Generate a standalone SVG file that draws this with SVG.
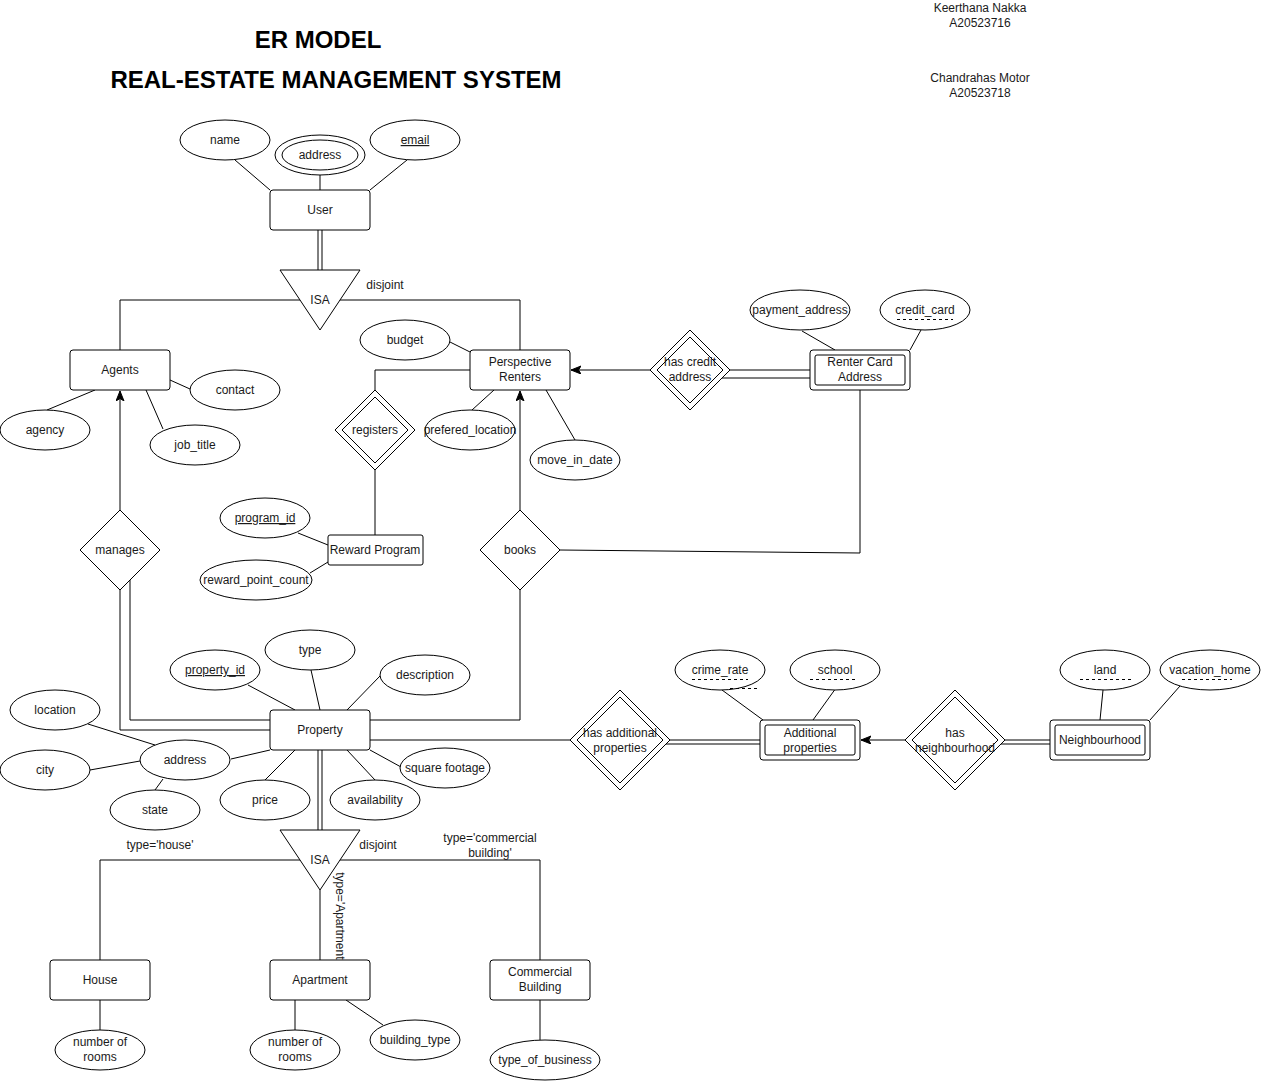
<svg xmlns="http://www.w3.org/2000/svg" width="1261" height="1081" viewBox="0 0 1261 1081">
<defs>
<marker id="arr" markerUnits="userSpaceOnUse" markerWidth="11" markerHeight="9" refX="10" refY="4" orient="auto">
<path d="M0,0 L10,4 L0,8 L2.5,4 z" fill="#000" stroke="#000" stroke-width="1"/>
</marker>
</defs>
<style>
.l{fill:none;stroke:#000;stroke-width:1}
.s{fill:#fff;stroke:#000;stroke-width:1}
.t{font-family:"Liberation Sans",Arial,sans-serif;font-size:12px;fill:#1a1a1a;text-anchor:middle}
.h{font-family:"Liberation Sans",Arial,sans-serif;font-size:24px;font-weight:bold;fill:#000;text-anchor:middle}
.u{text-decoration:underline}
.d{fill:none;stroke:#000;stroke-width:1;stroke-dasharray:3,3}
</style>
<rect x="0" y="0" width="1261" height="1081" fill="#fff"/>

<g id="titles">
<text class="h" x="318" y="48">ER MODEL</text>
<text class="h" x="336" y="88">REAL-ESTATE MANAGEMENT SYSTEM</text>
<text class="t" x="980" y="12">Keerthana Nakka</text>
<text class="t" x="980" y="27">A20523716</text>
<text class="t" x="980" y="82">Chandrahas Motor</text>
<text class="t" x="980" y="97">A20523718</text>
</g>

<g id="connectors">
<path class="l" d="M235,160 L270,190"/>
<path class="l" d="M320,175 L320,190"/>
<path class="l" d="M407,160 L370,190"/>
<path class="l" d="M318,230 V270 M322,230 V270"/>
<path class="l" d="M120,350 V300 H520 V350"/>
<path class="l" d="M170,380 L190,389"/>
<path class="l" d="M95,390 L47,410"/>
<path class="l" d="M146,390 L163,429"/>
<path class="l" d="M120,510 V391" marker-end="url(#arr)"/>
<path class="l" d="M120,590 V730 H270 M130,580 V720 H270"/>
<path class="l" d="M450,342 L470,352"/>
<path class="l" d="M494,390 L472,410"/>
<path class="l" d="M546,390 L575,440"/>
<path class="l" d="M470,370 H375 V390"/>
<path class="l" d="M375,470 V535"/>
<path class="l" d="M298,533 L328,545"/>
<path class="l" d="M310,573 L328,562"/>
<path class="l" d="M520,510 V391" marker-end="url(#arr)"/>
<path class="l" d="M520,590 V720 H370"/>
<path class="l" d="M560,550 L860,553 V390"/>
<path class="l" d="M650,370 H571" marker-end="url(#arr)"/>
<path class="l" d="M730,370 H810 M722,378 H810"/>
<path class="l" d="M802,331 L835,350"/>
<path class="l" d="M921,330 L910,350"/>
<path class="l" d="M248,685 L295,710"/>
<path class="l" d="M311,670 L320,710"/>
<path class="l" d="M380,676 L347,710"/>
<path class="l" d="M231,759 L270,750"/>
<path class="l" d="M295,750 L265,780"/>
<path class="l" d="M347,750 L375,780"/>
<path class="l" d="M370,750 L401,767"/>
<path class="l" d="M88,724 L155,745"/>
<path class="l" d="M90,770 L140,761"/>
<path class="l" d="M163,779 L155,790"/>
<path class="l" d="M318,750 V830 M322,750 V830"/>
<path class="l" d="M100,960 V860 H540 V960"/>
<path class="l" d="M320,890 V960"/>
<path class="l" d="M100,1000 V1030"/>
<path class="l" d="M295,1000 V1030"/>
<path class="l" d="M346,1000 L383,1025"/>
<path class="l" d="M540,1000 V1040"/>
<path class="l" d="M370,740 H570"/>
<path class="l" d="M670,740 H760 M666,744 H760"/>
<path class="l" d="M722,690 L763,720"/>
<path class="l" d="M836,688 L813,720"/>
<path class="l" d="M905,740 H861" marker-end="url(#arr)"/>
<path class="l" d="M1005,740 H1050 M1001,744 H1050"/>
<path class="l" d="M1103,690 L1100,720"/>
<path class="l" d="M1180,686 L1150,720"/>
<text class="t" x="385" y="289">disjoint</text>
<text class="t" x="160" y="849">type='house'</text>
<text class="t" x="378" y="849">disjoint</text>
<text class="t" x="490" y="842">type='commercial</text>
<text class="t" x="490" y="857">building'</text>
<text class="t" x="0" y="0" transform="translate(336,917) rotate(90)">type='Apartment'</text>
</g>

<g id="user">
<rect class="s" x="270" y="190" width="100" height="40" rx="3"/>
<text class="t" x="320" y="214">User</text>
</g>
<g id="user-name">
<ellipse class="s" cx="225" cy="140" rx="45" ry="20"/>
<text class="t" x="225" y="144">name</text>
</g>
<g id="user-address">
<ellipse class="s" cx="320" cy="155" rx="45" ry="20"/>
<ellipse class="s" cx="320" cy="155" rx="38" ry="15"/>
<text class="t" x="320" y="159">address</text>
</g>
<g id="user-email">
<ellipse class="s" cx="415" cy="140" rx="45" ry="20"/>
<text class="t u" x="415" y="144">email</text>
</g>
<g id="isa-user">
<path class="s" d="M280,270 H360 L320,330 Z"/>
<text class="t" x="320" y="304">ISA</text>
</g>

<g id="agents">
<rect class="s" x="70" y="350" width="100" height="40" rx="3"/>
<text class="t" x="120" y="374">Agents</text>
</g>
<g id="agents-contact">
<ellipse class="s" cx="235" cy="390" rx="45" ry="20"/>
<text class="t" x="235" y="394">contact</text>
</g>
<g id="agents-agency">
<ellipse class="s" cx="45" cy="430" rx="45" ry="20"/>
<text class="t" x="45" y="434">agency</text>
</g>
<g id="agents-job">
<ellipse class="s" cx="195" cy="445" rx="45" ry="20"/>
<text class="t" x="195" y="449">job_title</text>
</g>
<g id="manages">
<path class="s" d="M120,510 L160,550 L120,590 L80,550 Z"/>
<text class="t" x="120" y="554">manages</text>
</g>

<g id="renters">
<rect class="s" x="470" y="350" width="100" height="40" rx="3"/>
<text class="t" x="520" y="366">Perspective</text>
<text class="t" x="520" y="381">Renters</text>
</g>
<g id="renters-budget">
<ellipse class="s" cx="405" cy="340" rx="45" ry="20"/>
<text class="t" x="405" y="344">budget</text>
</g>
<g id="renters-loc">
<ellipse class="s" cx="470" cy="430" rx="45" ry="20"/>
<text class="t" x="470" y="434">prefered_location</text>
</g>
<g id="renters-move">
<ellipse class="s" cx="575" cy="460" rx="45" ry="20"/>
<text class="t" x="575" y="464">move_in_date</text>
</g>
<g id="registers">
<path class="s" d="M375,390 L415,430 L375,470 L335,430 Z"/>
<path class="s" d="M375,397 L408,430 L375,463 L342,430 Z"/>
<text class="t" x="375" y="434">registers</text>
</g>
<g id="reward">
<rect class="s" x="328" y="535" width="95" height="30" rx="2"/>
<text class="t" x="375" y="554">Reward Program</text>
</g>
<g id="reward-id">
<ellipse class="s" cx="265" cy="518" rx="45" ry="20"/>
<text class="t u" x="265" y="522">program_id</text>
</g>
<g id="reward-count">
<ellipse class="s" cx="256" cy="580" rx="56" ry="20"/>
<text class="t" x="256" y="584">reward_point_count</text>
</g>
<g id="books">
<path class="s" d="M520,510 L560,550 L520,590 L480,550 Z"/>
<text class="t" x="520" y="554">books</text>
</g>
<g id="has-credit">
<path class="s" d="M690,330 L730,370 L690,410 L650,370 Z"/>
<path class="s" d="M690,337 L723,370 L690,403 L657,370 Z"/>
<text class="t" x="690" y="366">has credit</text>
<text class="t" x="690" y="381">address</text>
</g>
<g id="renter-card">
<rect class="s" x="810" y="350" width="100" height="40" rx="3"/>
<rect class="s" x="815" y="355" width="90" height="30" rx="2"/>
<text class="t" x="860" y="366">Renter Card</text>
<text class="t" x="860" y="381">Address</text>
</g>
<g id="rc-payment">
<ellipse class="s" cx="800" cy="310" rx="50" ry="20"/>
<text class="t" x="800" y="314">payment_address</text>
</g>
<g id="rc-credit">
<ellipse class="s" cx="925" cy="310" rx="45" ry="20"/>
<text class="t" x="925" y="314">credit_card</text>
<path class="d" d="M897,319.5 H953"/>
</g>

<g id="property">
<rect class="s" x="270" y="710" width="100" height="40" rx="3"/>
<text class="t" x="320" y="734">Property</text>
</g>
<g id="prop-id">
<ellipse class="s" cx="215" cy="670" rx="45" ry="20"/>
<text class="t u" x="215" y="674">property_id</text>
</g>
<g id="prop-type">
<ellipse class="s" cx="310" cy="650" rx="45" ry="20"/>
<text class="t" x="310" y="654">type</text>
</g>
<g id="prop-desc">
<ellipse class="s" cx="425" cy="675" rx="45" ry="20"/>
<text class="t" x="425" y="679">description</text>
</g>
<g id="prop-address">
<ellipse class="s" cx="185" cy="760" rx="45" ry="20"/>
<text class="t" x="185" y="764">address</text>
</g>
<g id="addr-location">
<ellipse class="s" cx="55" cy="710" rx="45" ry="20"/>
<text class="t" x="55" y="714">location</text>
</g>
<g id="addr-city">
<ellipse class="s" cx="45" cy="770" rx="45" ry="20"/>
<text class="t" x="45" y="774">city</text>
</g>
<g id="addr-state">
<ellipse class="s" cx="155" cy="810" rx="45" ry="20"/>
<text class="t" x="155" y="814">state</text>
</g>
<g id="prop-price">
<ellipse class="s" cx="265" cy="800" rx="45" ry="20"/>
<text class="t" x="265" y="804">price</text>
</g>
<g id="prop-avail">
<ellipse class="s" cx="375" cy="800" rx="45" ry="20"/>
<text class="t" x="375" y="804">availability</text>
</g>
<g id="prop-sqft">
<ellipse class="s" cx="445" cy="768" rx="45" ry="20"/>
<text class="t" x="445" y="772">square footage</text>
</g>

<g id="isa-property">
<path class="s" d="M280,830 H360 L320,890 Z"/>
<text class="t" x="320" y="864">ISA</text>
</g>
<g id="house">
<rect class="s" x="50" y="960" width="100" height="40" rx="3"/>
<text class="t" x="100" y="984">House</text>
</g>
<g id="house-rooms">
<ellipse class="s" cx="100" cy="1050" rx="45" ry="20"/>
<text class="t" x="100" y="1046">number of</text>
<text class="t" x="100" y="1061">rooms</text>
</g>
<g id="apartment">
<rect class="s" x="270" y="960" width="100" height="40" rx="3"/>
<text class="t" x="320" y="984">Apartment</text>
</g>
<g id="apt-rooms">
<ellipse class="s" cx="295" cy="1050" rx="45" ry="20"/>
<text class="t" x="295" y="1046">number of</text>
<text class="t" x="295" y="1061">rooms</text>
</g>
<g id="apt-btype">
<ellipse class="s" cx="415" cy="1040" rx="45" ry="20"/>
<text class="t" x="415" y="1044">building_type</text>
</g>
<g id="commercial">
<rect class="s" x="490" y="960" width="100" height="40" rx="3"/>
<text class="t" x="540" y="976">Commercial</text>
<text class="t" x="540" y="991">Building</text>
</g>
<g id="com-business">
<ellipse class="s" cx="545" cy="1060" rx="55" ry="20"/>
<text class="t" x="545" y="1064">type_of_business</text>
</g>

<g id="has-additional">
<path class="s" d="M620,690 L670,740 L620,790 L570,740 Z"/>
<path class="s" d="M620,697 L663,740 L620,783 L577,740 Z"/>
<text class="t" x="620" y="737">has additional</text>
<text class="t" x="620" y="752">properties</text>
</g>
<g id="additional">
<rect class="s" x="760" y="720" width="100" height="40" rx="3"/>
<rect class="s" x="765" y="725" width="90" height="30" rx="2"/>
<text class="t" x="810" y="737">Additional</text>
<text class="t" x="810" y="752">properties</text>
</g>
<g id="add-crime">
<ellipse class="s" cx="720" cy="670" rx="45" ry="20"/>
<text class="t" x="720" y="674">crime_rate</text>
<path class="d" d="M692,679.5 H748"/>
<path class="d" d="M730,688.5 H757"/>
</g>
<g id="add-school">
<ellipse class="s" cx="835" cy="670" rx="45" ry="20"/>
<text class="t" x="835" y="674">school</text>
<path class="d" d="M810,679.5 H857"/>
</g>
<g id="has-neighbourhood">
<path class="s" d="M955,690 L1005,740 L955,790 L905,740 Z"/>
<path class="s" d="M955,697 L998,740 L955,783 L912,740 Z"/>
<text class="t" x="955" y="737">has</text>
<text class="t" x="955" y="752">neighbourhood</text>
</g>
<g id="neighbourhood">
<rect class="s" x="1050" y="720" width="100" height="40" rx="3"/>
<rect class="s" x="1055" y="725" width="90" height="30" rx="2"/>
<text class="t" x="1100" y="744">Neighbourhood</text>
</g>
<g id="nb-land">
<ellipse class="s" cx="1105" cy="670" rx="45" ry="20"/>
<text class="t" x="1105" y="674">land</text>
<path class="d" d="M1080,679.5 H1132"/>
</g>
<g id="nb-vacation">
<ellipse class="s" cx="1210" cy="670" rx="50" ry="20"/>
<text class="t" x="1210" y="674">vacation_home</text>
<path class="d" d="M1182,679.5 H1232"/>
</g>
</svg>
